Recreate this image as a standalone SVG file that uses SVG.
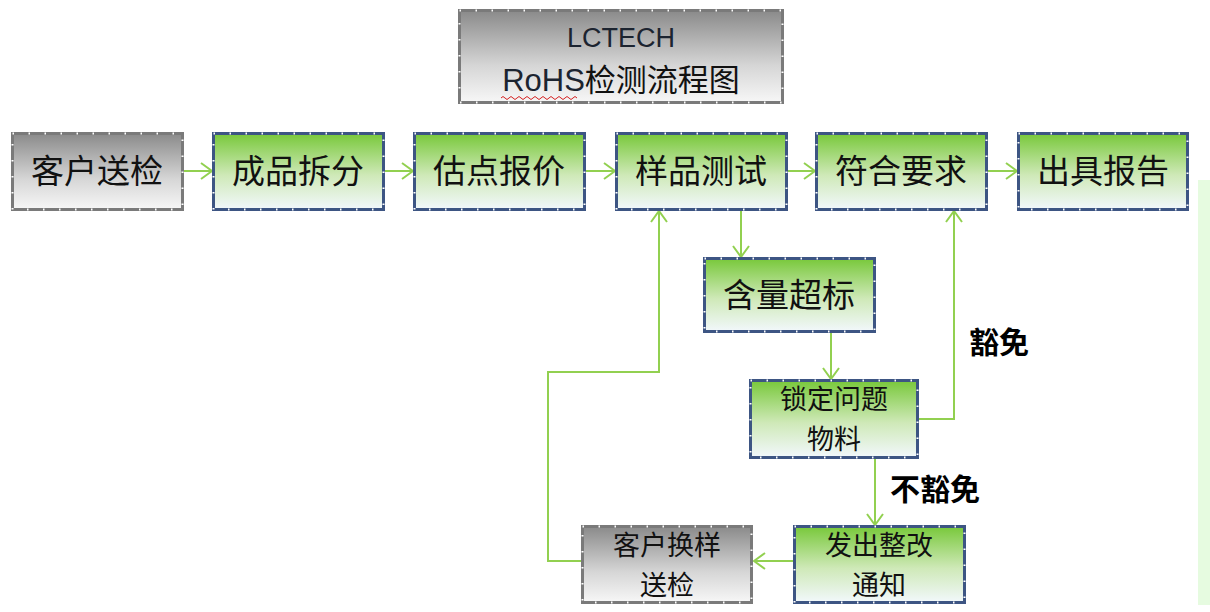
<svg xmlns="http://www.w3.org/2000/svg" width="1210" height="612" viewBox="0 0 1210 612">
<style>
.t{font-family:"Noto Sans CJK SC","Liberation Sans",sans-serif;font-size:33px;fill:#111;text-anchor:middle}
.t2{font-family:"Noto Sans CJK SC","Liberation Sans",sans-serif;font-size:27px;fill:#111;text-anchor:middle}
.lbl{font-family:"Noto Sans CJK SC","Liberation Sans",sans-serif;font-size:30px;font-weight:bold;fill:#000;text-anchor:middle}
.gn{fill:url(#gGreen);stroke:#3d5583;stroke-width:3}
.gy{fill:url(#gGray);stroke:#7a7a7a;stroke-width:3}
.tick{fill:none;stroke:#fff;stroke-width:2;stroke-dasharray:1.5 14.5}
.c{fill:none;stroke:#92d050;stroke-width:2;marker-end:url(#ah)}
</style>
<defs>
<linearGradient id="gGreen" x1="0" y1="0" x2="0" y2="1">
<stop offset="0" stop-color="#78c83a"/>
<stop offset="0.55" stop-color="#cfe9b8"/>
<stop offset="1" stop-color="#f2f8fc"/>
</linearGradient>
<linearGradient id="gGray" x1="0" y1="0" x2="0" y2="1">
<stop offset="0" stop-color="#8a8a8a"/>
<stop offset="0.6" stop-color="#d6d6d6"/>
<stop offset="1" stop-color="#f7f7f7"/>
</linearGradient>
<marker id="ah" markerUnits="userSpaceOnUse" markerWidth="16" markerHeight="18" refX="12" refY="9" orient="auto">
<path d="M1,1 L12,9 L1,17" fill="none" stroke="#92d050" stroke-width="2"/>
</marker>
</defs>
<rect x="1198" y="180" width="12" height="425" fill="#e6fbe0"/>
<g id="connectors">
<line class="c" x1="184" y1="171" x2="212" y2="171"/>
<line class="c" x1="385" y1="171" x2="413" y2="171"/>
<line class="c" x1="586" y1="171" x2="615" y2="171"/>
<line class="c" x1="788" y1="171" x2="815" y2="171"/>
<line class="c" x1="988" y1="171" x2="1017" y2="171"/>
<line class="c" x1="741" y1="211" x2="741" y2="257"/>
<line class="c" x1="831" y1="333" x2="831" y2="379"/>
<polyline class="c" points="919,419 954,419 954,211"/>
<line class="c" x1="875" y1="459" x2="875" y2="525"/>
<line class="c" x1="793" y1="561" x2="754" y2="561"/>
<polyline class="c" points="581,561 548,561 548,372 659,372 659,211"/>
</g>
<text class="lbl" x="999" y="353">豁免</text>
<text class="lbl" x="935" y="500">不豁免</text>
<g id="title">
<rect class="gy" x="459.5" y="10.5" width="323" height="92"/>
<rect class="tick" x="459.5" y="10.5" width="323" height="92"/>
<text class="t" x="621" y="47" style="font-family:'Liberation Sans','Noto Sans',sans-serif;font-size:27px;fill:#1c2430">LCTECH</text>
<text class="t" x="621" y="91" style="font-size:31px"><tspan style="font-family:'Liberation Sans','Noto Sans',sans-serif;fill:#1c2430">RoHS</tspan>检测流程图</text>
<path d="M501,98 q2,-3 4,0 t4,0 t4,0 t4,0 t4,0 t4,0 t4,0 t4,0 t4,0 t4,0 t4,0 t4,0 t4,0 t4,0 t4,0 t4,0 t4,0 t4,0 t4,0" fill="none" stroke="#d42020" stroke-width="1"/>
</g>
<g id="n1"><rect class="gy" x="12.5" y="133.5" width="170" height="76"/><rect class="tick" x="12.5" y="133.5" width="170" height="76"/><text class="t" x="97" y="183">客户送检</text></g>
<g id="n2"><rect class="gn" x="213.5" y="133.5" width="170" height="76"/><rect class="tick" x="213.5" y="133.5" width="170" height="76"/><text class="t" x="298" y="183">成品拆分</text></g>
<g id="n3"><rect class="gn" x="414.5" y="133.5" width="170" height="76"/><rect class="tick" x="414.5" y="133.5" width="170" height="76"/><text class="t" x="499" y="183">估点报价</text></g>
<g id="n4"><rect class="gn" x="616.5" y="133.5" width="170" height="76"/><rect class="tick" x="616.5" y="133.5" width="170" height="76"/><text class="t" x="701" y="183">样品测试</text></g>
<g id="n5"><rect class="gn" x="816.5" y="133.5" width="170" height="76"/><rect class="tick" x="816.5" y="133.5" width="170" height="76"/><text class="t" x="901" y="183">符合要求</text></g>
<g id="n6"><rect class="gn" x="1018.5" y="133.5" width="169" height="76"/><rect class="tick" x="1018.5" y="133.5" width="169" height="76"/><text class="t" x="1103" y="183">出具报告</text></g>
<g id="n7"><rect class="gn" x="704.5" y="258.5" width="170" height="73"/><rect class="tick" x="704.5" y="258.5" width="170" height="73"/><text class="t" x="789" y="307">含量超标</text></g>
<g id="n8"><rect class="gn" x="750.5" y="380.5" width="167" height="77"/><rect class="tick" x="750.5" y="380.5" width="167" height="77"/><text class="t2" x="834" y="409"><tspan x="834" y="409">锁定问题</tspan><tspan x="834" y="449">物料</tspan></text></g>
<g id="n9"><rect class="gn" x="794.5" y="526.5" width="170" height="76"/><rect class="tick" x="794.5" y="526.5" width="170" height="76"/><text class="t2" x="879" y="555"><tspan x="879" y="555">发出整改</tspan><tspan x="879" y="595">通知</tspan></text></g>
<g id="n10"><rect class="gy" x="582.5" y="526.5" width="169" height="76"/><rect class="tick" x="582.5" y="526.5" width="169" height="76"/><text class="t2" x="667" y="555"><tspan x="667" y="555">客户换样</tspan><tspan x="667" y="595">送检</tspan></text></g>
</svg>
